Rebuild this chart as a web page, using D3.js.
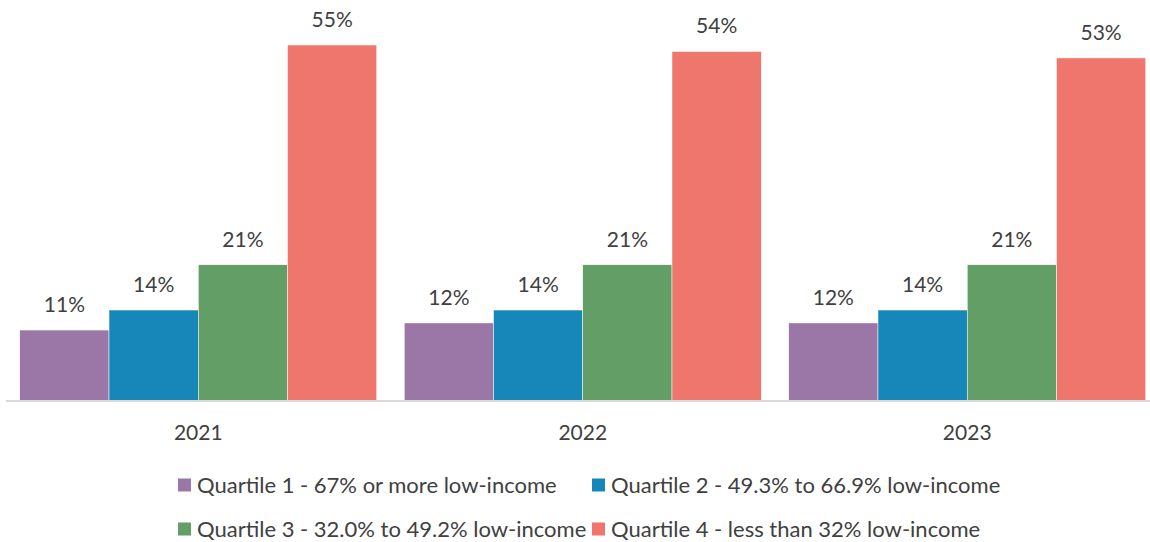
<!DOCTYPE html>
<html><head><meta charset="utf-8">
<script src="https://cdn.jsdelivr.net/npm/d3@7"></script>
<style>body{margin:0;background:#fff}svg{display:block}text{font-family:Lato,"Open Sans",sans-serif;fill:#404040}</style>
</head><body><svg id="c" width="1150" height="542"></svg>
<script>
const years = ["2021","2022","2023"];
const seriesNames = ["Quartile 1 - 67% or more low-income","Quartile 2 - 49.3% to 66.9% low-income","Quartile 3 - 32.0% to 49.2% low-income","Quartile 4 - less than 32% low-income"];
const q1 = [10.9, 12, 12];
const q2 = [14, 14, 14];
const q3 = [21, 21, 21];
const q4 = [55, 54, 53];
const colors = ["#9B77A8","#1787BA","#629E66","#EE766C"];
const seriesVals = [q1,q2,q3,q4];

const svg = d3.select("#c");
const x0 = d3.scaleBand().domain(years).range([6,1159.5]).paddingInner(0.0715).paddingOuter(0.0358);
const x1 = d3.scaleBand().domain(d3.range(4)).range([0,x0.bandwidth()]);
const y = d3.scaleLinear().domain([0,55]).range([400.5,45]);

const g = svg.selectAll("g.grp").data(years).join("g").attr("transform",d=>`translate(${x0(d)},0)`);
g.selectAll("rect").data((d,i)=>seriesVals.map((s,k)=>({k,v:s[i]}))).join("rect")
  .attr("x",d=>x1(d.k)).attr("width",x1.bandwidth()).attr("y",d=>y(d.v)).attr("height",d=>y(0)-y(d.v))
  .attr("fill",d=>colors[d.k]).attr("stroke","#fff").attr("stroke-width",0.5);
g.selectAll("text.lbl").data((d,i)=>seriesVals.map((s,k)=>({k,v:s[i]}))).join("text").attr("class","lbl")
  .attr("x",d=>x1(d.k)+x1.bandwidth()/2).attr("y",d=>y(d.v)-18).attr("text-anchor","middle")
  .style("font-size","21px").text(d=>d3.format(".0f")(d.v)+"%");

svg.append("line").attr("x1",6).attr("x2",1150).attr("y1",401).attr("y2",401).attr("stroke","#d9d9d9").attr("stroke-width",2);
svg.selectAll("text.yr").data(years).join("text").attr("class","yr")
  .attr("x",d=>x0(d)+x0.bandwidth()/2).attr("y",440).attr("text-anchor","middle").style("font-size","21px").text(d=>d);

const legPos = [[178,485],[592,485],[178,529],[592,529]];
const lg = svg.selectAll("g.leg").data(seriesNames).join("g").attr("transform",(d,i)=>`translate(${legPos[i][0]},${legPos[i][1]})`);
lg.append("rect").attr("x",0).attr("y",-6.5).attr("width",13).attr("height",13).attr("fill",(d,i)=>colors[i]);
lg.append("text").attr("x",19).attr("y",8).style("font-size","22px").text(d=>d);
</script></body></html>
